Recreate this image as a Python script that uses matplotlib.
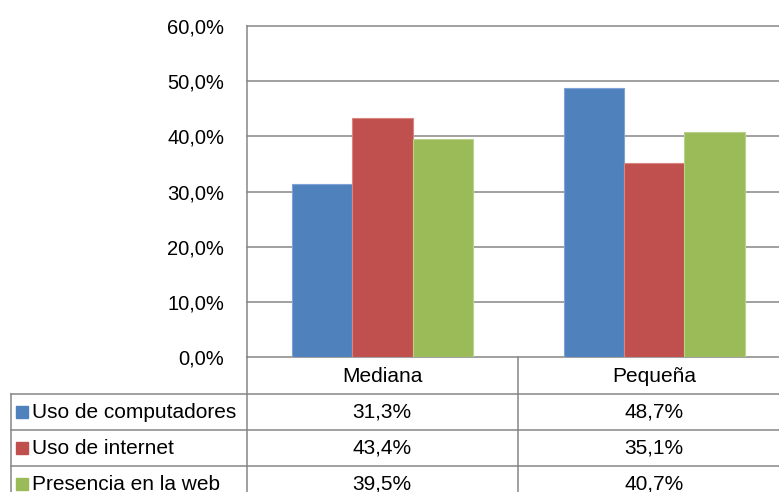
import matplotlib
matplotlib.use("Agg")
import matplotlib.pyplot as plt
from matplotlib.lines import Line2D
from matplotlib.patches import Rectangle

categories = ["Mediana", "Pequeña"]
series_names = ["Uso de computadores", "Uso de internet", "Presencia en la web"]
values = [
    [31.3, 48.7],
    [43.4, 35.1],
    [39.5, 40.7],
]
colors = ["#4F81BD", "#C0504D", "#9BBB59"]
edge_colors = ["#7FA3D4", "#D88581", "#B9D18A"]
yticks = [0, 10, 20, 30, 40, 50, 60]

W, H = 779, 492
fig = plt.figure(figsize=(W / 100, H / 100), dpi=100)
plt.rcParams['font.family'] = ['Liberation Sans', 'DejaVu Sans']

def fx(px):
    return px / W

def fy(py):
    return 1 - py / H

ax_left, ax_right, ax_top, ax_bot = 246.5, 790, 26, 357
ax = fig.add_axes([fx(ax_left), fy(ax_bot), fx(ax_right - ax_left), fy(ax_top) - fy(ax_bot)])

grid_c = "#868686"
n = len(series_names)
bw = 1.0 / (n + 1.5)
for i, (name, vals) in enumerate(zip(series_names, values)):
    xs = [g + (i - (n - 1) / 2) * bw for g in range(len(categories))]
    ax.bar(xs, vals, width=bw, color=colors[i], edgecolor=edge_colors[i], linewidth=0.8, zorder=3)

fs = 14.5
tfs = 15
ax.set_xlim(-0.5, len(categories) - 0.5)
ax.set_ylim(0, 60)
ax.set_yticks(yticks)
ax.set_yticklabels([f"{t:.1f}".replace(".", ",") + "%" for t in yticks], fontsize=fs, color="#000000")
ax.tick_params(axis='y', length=0, pad=16)
ax.set_xticks([])
for y in yticks:
    ax.axhline(y, color=grid_c, lw=1.1, zorder=1, clip_on=False)
for s in ["top", "right", "bottom"]:
    ax.spines[s].set_visible(False)
ax.spines["left"].set_color(grid_c)
ax.spines["left"].set_linewidth(1.1)

# Data table drawn in figure coordinates
col_x = [11, 246.5, 518, 790]
row_y = [357, 394, 430, 466, 510]
lw = 1.1

def hline(x0, x1, y):
    fig.add_artist(Line2D([fx(x0), fx(x1)], [fy(y), fy(y)], color=grid_c, lw=lw))

def vline(x, y0, y1):
    fig.add_artist(Line2D([fx(x), fx(x)], [fy(y0), fy(y1)], color=grid_c, lw=lw))

vline(col_x[1], row_y[0], row_y[-1])
vline(col_x[2], row_y[0], row_y[-1])
vline(col_x[0], row_y[1], row_y[-1])
hline(col_x[0], col_x[3], row_y[1])
hline(col_x[0], col_x[3], row_y[2])
hline(col_x[0], col_x[3], row_y[3])

for j, cat in enumerate(categories):
    cx = (col_x[j + 1] + col_x[j + 2]) / 2
    fig.text(fx(cx), fy((row_y[0] + row_y[1]) / 2 + 1), cat, ha="center", va="center", fontsize=tfs)

for i, name in enumerate(series_names):
    cy = (row_y[i + 1] + min(row_y[i + 2], row_y[i + 1] + 36)) / 2
    fig.add_artist(Rectangle((fx(16), fy(cy + 6)), fx(12), fy(0) - fy(12), color=colors[i],
                             transform=fig.transFigure))
    fig.text(fx(32), fy(cy), name, ha="left", va="center", fontsize=tfs)
    for j in range(len(categories)):
        cx = (col_x[j + 1] + col_x[j + 2]) / 2
        txt = f"{values[i][j]:.1f}".replace(".", ",") + "%"
        fig.text(fx(cx), fy(cy), txt, ha="center", va="center", fontsize=tfs)

fig.savefig("out.png", dpi=100)
